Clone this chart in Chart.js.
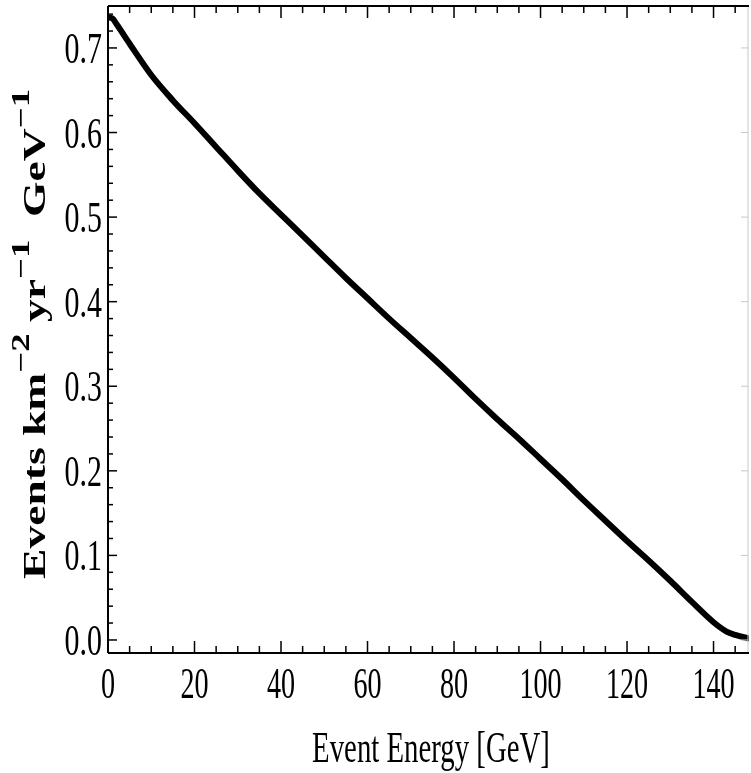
<!DOCTYPE html>
<html>
<head>
<meta charset="utf-8">
<script src="https://cdn.jsdelivr.net/npm/chart.js@4.4.0/dist/chart.umd.min.js"></script>
<style>
  html, body { margin: 0; padding: 0; background: #fff; }
  #wrap { width: 751px; height: 773px; }
</style>
</head>
<body>
<div id="wrap"><canvas id="chart" width="751" height="773"></canvas></div>
<script>
// event rate vs energy
const energy = [0, 1, 2, 5, 10, 15, 20, 25, 30, 35, 40, 45, 50, 55, 60, 65, 70, 75, 80, 85, 90, 95, 100, 105, 110, 115, 120, 125, 130, 135, 140, 143, 145, 148];
const rate = [0.736, 0.735, 0.728, 0.705, 0.668, 0.638, 0.611, 0.583, 0.555, 0.528, 0.503, 0.478, 0.453, 0.428, 0.404, 0.380, 0.357, 0.334, 0.310, 0.285, 0.261, 0.238, 0.214, 0.190, 0.165, 0.141, 0.117, 0.094, 0.070, 0.045, 0.021, 0.010, 0.006, 0.002];

const xTicks = [0, 20, 40, 60, 80, 100, 120, 140];
const yTicks = [0.0, 0.1, 0.2, 0.3, 0.4, 0.5, 0.6, 0.7];
const xMinorStep = 5;
const yMinorStep = 0.02;

const xLabel = 'Event Energy [GeV]';
// label pieces: [text, isSuperscript]
const yLabelParts = [['Events km', false], ['\u22122', true], [' yr', false], ['\u22121', true], ['  GeV', false], ['\u22121', true]];

const serif = '"Liberation Serif", "Times New Roman", serif';

function condensedText(ctx, text, x, y, font, sx, align) {
  ctx.save();
  ctx.font = font;
  const w = ctx.measureText(text).width * sx;
  let left = x;
  if (align === 'center') left = x - w / 2;
  else if (align === 'right') left = x - w;
  ctx.translate(left, y);
  ctx.scale(sx, 1);
  ctx.textAlign = 'left';
  ctx.fillText(text, 0, 0);
  ctx.restore();
}

const framePlugin = {
  id: 'frame',
  afterDatasetsDraw(chart) {
    const ctx = chart.ctx;
    const a = chart.chartArea;
    const xs = chart.scales.x, ys = chart.scales.y;
    ctx.save();

    // faint right border
    ctx.strokeStyle = '#c8c8c8';
    ctx.lineWidth = 1;
    ctx.beginPath();
    ctx.moveTo(a.right - 1, a.top);
    ctx.lineTo(a.right - 1, a.bottom);
    ctx.stroke();
    yTicks.forEach(v => {
      const py = ys.getPixelForValue(v);
      ctx.beginPath();
      ctx.moveTo(a.right - 1, py);
      ctx.lineTo(a.right - 8, py);
      ctx.stroke();
    });

    // left, bottom, top axes
    ctx.strokeStyle = '#000';
    ctx.lineWidth = 2;
    ctx.beginPath();
    ctx.moveTo(a.left, a.top);
    ctx.lineTo(a.left, a.bottom);
    ctx.moveTo(a.left, a.bottom);
    ctx.lineTo(a.right, a.bottom);
    ctx.moveTo(a.left, a.top);
    ctx.lineTo(a.right, a.top);
    ctx.stroke();

    // x ticks, bottom and top, pointing inward
    ctx.lineWidth = 1.5;
    for (let v = 0; v <= xs.max + 1e-9; v += xMinorStep) {
      const px = xs.getPixelForValue(v);
      const major = xTicks.includes(v);
      const len = major ? 12 : 7;
      ctx.beginPath();
      ctx.moveTo(px, a.bottom);
      ctx.lineTo(px, a.bottom - len);
      ctx.moveTo(px, a.top);
      ctx.lineTo(px, a.top + len);
      ctx.stroke();
    }
    // y ticks
    for (let i = 0; i * yMinorStep <= ys.max + 1e-9; i++) {
      const v = i * yMinorStep;
      const py = ys.getPixelForValue(v);
      const major = i % 5 === 0;
      ctx.beginPath();
      ctx.moveTo(a.left, py);
      ctx.lineTo(a.left + (major ? 9 : 5), py);
      ctx.stroke();
    }

    // tick labels
    ctx.fillStyle = '#000';
    ctx.textBaseline = 'alphabetic';
    const tickFont = '44px ' + serif;
    xTicks.forEach(v => {
      condensedText(ctx, String(v), xs.getPixelForValue(v), a.bottom + 45, tickFont, 0.64, 'center');
    });
    yTicks.forEach(v => {
      condensedText(ctx, v.toFixed(1), a.left - 6, ys.getPixelForValue(v) + 15, tickFont, 0.68, 'right');
    });

    // x title
    condensedText(ctx, xLabel, 431, 762, '45px ' + serif, 0.64, 'center');

    // y title, rotated, with superscripts, stretched along its length
    const mainFont = 'bold 31px ' + serif;
    const supFont = 'bold 25px ' + serif;
    let total = 0;
    yLabelParts.forEach(([t, sup]) => {
      ctx.font = sup ? supFont : mainFont;
      total += ctx.measureText(t).width;
    });
    const stretch = 490 / total;
    ctx.save();
    ctx.translate(45, 334);
    ctx.rotate(-Math.PI / 2);
    ctx.scale(stretch, 1);
    let cx = -total / 2;
    yLabelParts.forEach(([t, sup]) => {
      ctx.font = sup ? supFont : mainFont;
      ctx.fillText(t, cx, sup ? -16 : 0);
      cx += ctx.measureText(t).width;
    });
    ctx.restore();

    ctx.restore();
  }
};

new Chart(document.getElementById('chart'), {
  type: 'line',
  data: {
    datasets: [{
      data: energy.map((e, i) => ({ x: e, y: rate[i] })),
      borderColor: '#000',
      borderWidth: 6,
      borderCapStyle: 'round',
      pointRadius: 0,
      cubicInterpolationMode: 'monotone',
      fill: false
    }]
  },
  options: {
    responsive: false,
    animation: false,
    devicePixelRatio: 1,
    layout: { padding: { left: 108, top: 6, right: 2, bottom: 120 } },
    plugins: { legend: { display: false }, tooltip: { enabled: false } },
    scales: {
      x: { type: 'linear', min: 0, max: 148.2, display: false },
      y: { type: 'linear', min: -0.0154, max: 0.7496, display: false }
    }
  },
  plugins: [framePlugin]
});
</script>
</body>
</html>
